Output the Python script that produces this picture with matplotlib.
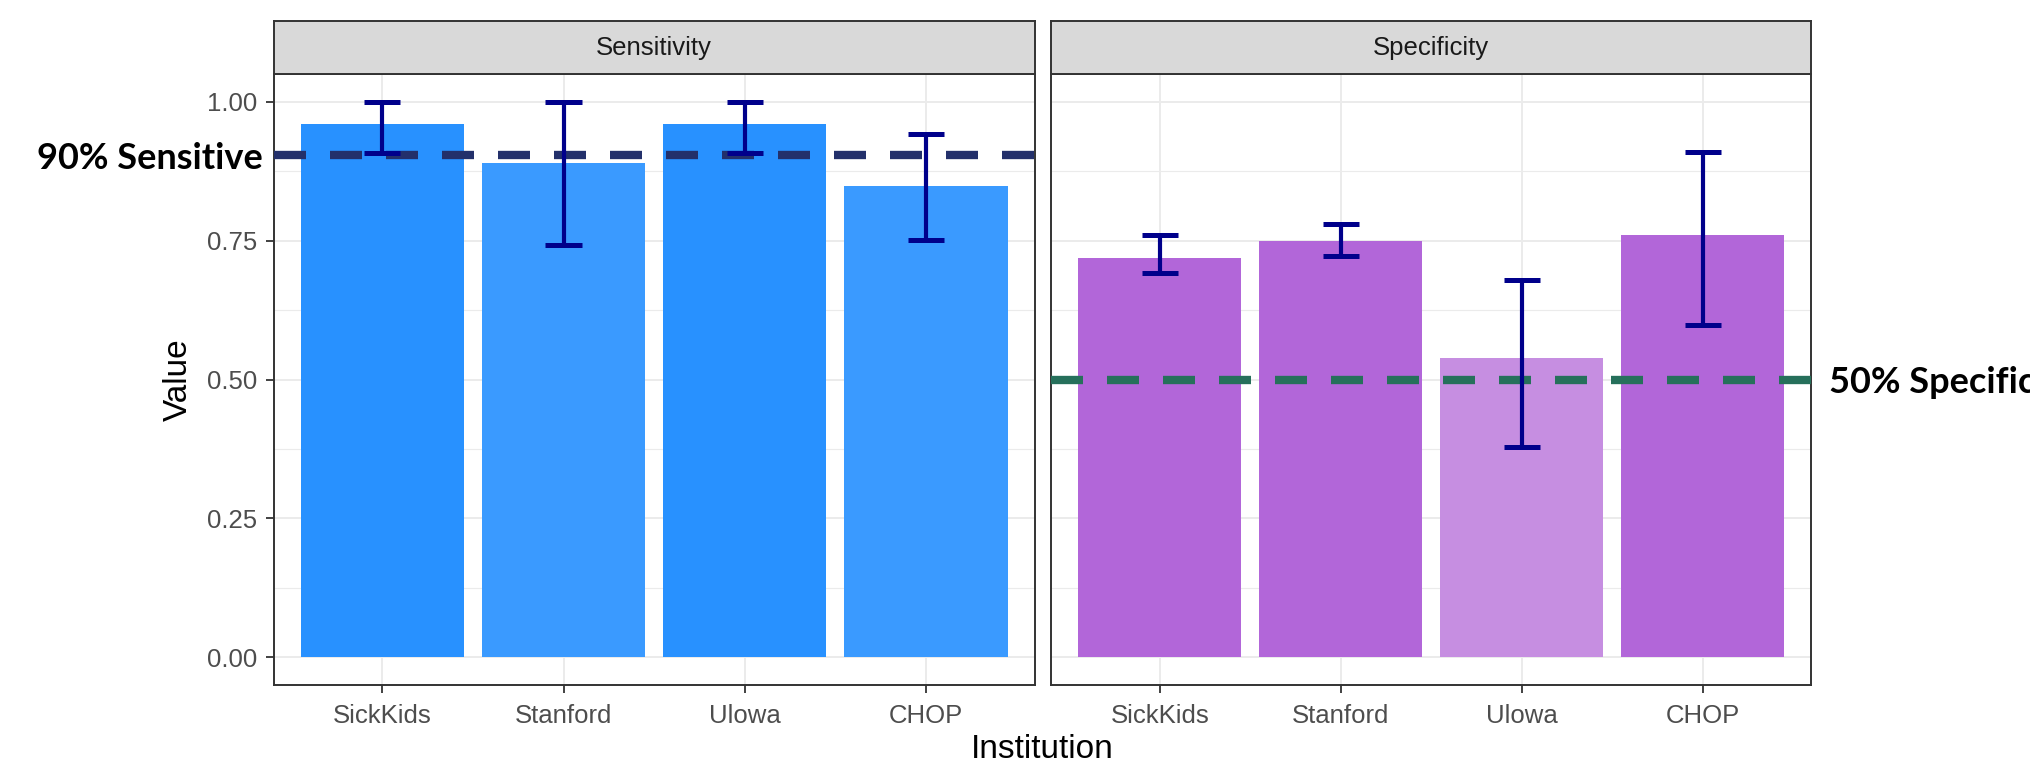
import matplotlib
matplotlib.use("Agg")
import matplotlib.pyplot as plt
import numpy as np

# data
institutions = ["SickKids", "Stanford", "UIowa", "CHOP"]
tick_labels = ["SickKids", "Stanford", "Ulowa", "CHOP"]

sens_value = [0.96, 0.889, 0.96, 0.848]
sens_low = [0.908, 0.742, 0.908, 0.752]
sens_high = [1.00, 1.00, 1.00, 0.942]
sens_colors = ["#2891FF", "#3A9AFF", "#2891FF", "#3A9AFF"]

spec_value = [0.718, 0.75, 0.539, 0.76]
spec_low = [0.692, 0.722, 0.379, 0.599]
spec_high = [0.76, 0.78, 0.68, 0.91]
spec_colors = ["#B266D9", "#B266D9", "#C68EE1", "#B266D9"]

sens_target = 0.905
spec_target = 0.50

W, H = 2030, 770
fig = plt.figure(figsize=(W / 100, H / 100), dpi=100)
plt.rcParams["font.family"] = ["Liberation Sans", "DejaVu Sans"]


def px_rect(x0, y0, x1, y1):
    return [x0 / W, 1 - y1 / H, (x1 - x0) / W, (y1 - y0) / H]


def facet(x0, x1, title, values, lows, highs, colors, show_y):
    ax = fig.add_axes(px_rect(x0, 74, x1, 685))
    st = fig.add_axes(px_rect(x0, 21, x1, 74))
    x = np.arange(1, len(values) + 1)
    ax.bar(x, values, width=0.9, color=colors, zorder=2)
    ax.vlines(x, lows, highs, color="#00008B", lw=3.0, zorder=4)
    ax.hlines(lows, x - 0.1, x + 0.1, color="#00008B", lw=3.6, zorder=4)
    ax.hlines(highs, x - 0.1, x + 0.1, color="#00008B", lw=3.6, zorder=4)
    ax.set_xlim(0.4, len(values) + 0.6)
    ax.set_ylim(-0.05, 1.05)
    ax.set_xticks(x)
    ax.set_xticklabels(tick_labels)
    ax.set_yticks([0, 0.25, 0.5, 0.75, 1.0])
    ax.set_yticks([0.125, 0.375, 0.625, 0.875], minor=True)
    ax.yaxis.set_major_formatter(matplotlib.ticker.FormatStrFormatter("%.2f"))
    ax.grid(True, which="major", color="#EBEBEB", lw=1.4, zorder=0)
    ax.grid(True, which="minor", axis="y", color="#EBEBEB", lw=0.8, zorder=0)
    ax.set_axisbelow(True)
    ax.tick_params(axis="both", which="major", length=6, width=1.3, color="#333333",
                   labelsize=18.5, labelcolor="#4D4D4D")
    ax.tick_params(axis="x", pad=7.5)
    ax.tick_params(axis="y", pad=6)
    ax.tick_params(which="minor", length=0)
    if not show_y:
        ax.tick_params(axis="y", which="both", length=0, labelleft=False)
    for s in ax.spines.values():
        s.set_color("#333333")
        s.set_linewidth(1.4)
    st.set_facecolor("#D9D9D9")
    st.set_xticks([])
    st.set_yticks([])
    for s in st.spines.values():
        s.set_color("#333333")
        s.set_linewidth(1.4)
    st.text(0.5, 0.5, title, ha="center", va="center", fontsize=18.5,
            color="#1A1A1A", transform=st.transAxes)
    return ax


ax1 = facet(273.6, 1034.7, "Sensitivity", sens_value, sens_low, sens_high, sens_colors, True)
ax2 = facet(1051.2, 1811.4, "Specificity", spec_value, spec_low, spec_high, spec_colors, False)

lw_dash = 6.0
ax1.axhline(sens_target, color="#23306B", lw=lw_dash, zorder=3,
            linestyle=(0, (32 / (lw_dash * 100 / 72), 24 / (lw_dash * 100 / 72))),
            solid_capstyle="butt", dash_capstyle="butt")
ax2.axhline(spec_target, color="#26705B", lw=lw_dash, zorder=3,
            linestyle=(0, (32 / (lw_dash * 100 / 72), 24 / (lw_dash * 100 / 72))),
            solid_capstyle="butt", dash_capstyle="butt")

fig.text(178 / W, 1 - 380 / H, "Value", rotation=90, ha="center", va="center", fontsize=24)
fig.text(1042 / W, 1 - 750 / H, "Institution", ha="center", va="center", fontsize=24)

fig.text(263 / W, 1 - 169 / H, "90% Sensitive", ha="right", va="baseline",
         fontsize=26, fontweight="bold", family=["Lato", "DejaVu Sans"])
fig.text(1829 / W, 1 - 393 / H, "50% Specificity", ha="left", va="baseline",
         fontsize=26, fontweight="bold", family=["Lato", "DejaVu Sans"])

fig.savefig("out.png", dpi=100)
